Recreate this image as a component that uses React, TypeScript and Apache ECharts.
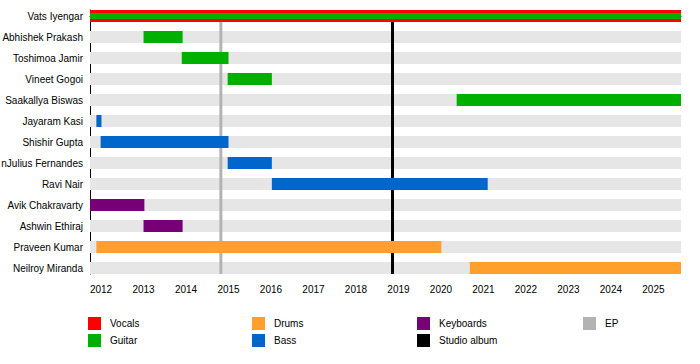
import React, { useEffect, useRef } from "react";
import * as echarts from "echarts";

const members = [
  "Vats Iyengar",
  "Abhishek Prakash",
  "Toshimoa Jamir",
  "Vineet Gogoi",
  "Saakallya Biswas",
  "Jayaram Kasi",
  "Shishir Gupta",
  "nJulius Fernandes",
  "Ravi Nair",
  "Avik Chakravarty",
  "Ashwin Ethiraj",
  "Praveen Kumar",
  "Neilroy Miranda",
];

const timelineStart = 2011.74;
const timelineEnd = 2025.65;
const yearTicks = [2012, 2013, 2014, 2015, 2016, 2017, 2018, 2019, 2020, 2021, 2022, 2023, 2024, 2025];

// [member, start, end]
const vocalsSpans: [string, number, number][] = [["Vats Iyengar", 2011.74, 2025.65]];
const guitarSpans: [string, number, number][] = [
  ["Abhishek Prakash", 2013.0, 2013.92],
  ["Toshimoa Jamir", 2013.9, 2015.0],
  ["Vineet Gogoi", 2014.98, 2016.02],
  ["Saakallya Biswas", 2020.37, 2025.65],
];
const secondaryGuitarSpans: [string, number, number][] = [["Vats Iyengar", 2011.74, 2025.65]];
const bassSpans: [string, number, number][] = [
  ["Jayaram Kasi", 2011.89, 2012.01],
  ["Shishir Gupta", 2011.99, 2015.0],
  ["nJulius Fernandes", 2014.98, 2016.02],
  ["Ravi Nair", 2016.02, 2021.1],
];
const keyboardsSpans: [string, number, number][] = [
  ["Avik Chakravarty", 2011.74, 2013.02],
  ["Ashwin Ethiraj", 2013.0, 2013.92],
];
const drumsSpans: [string, number, number][] = [
  ["Praveen Kumar", 2011.89, 2020.01],
  ["Neilroy Miranda", 2020.68, 2025.65],
];
const epReleases = [2014.82];
const studioAlbumReleases = [2018.86];

const COLORS: Record<string, string> = {
  Vocals: "#ff0000",
  Guitar: "#00b000",
  Drums: "#ff9f2c",
  Bass: "#0066cc",
  Keyboards: "#770077",
  "Studio album": "#000000",
  EP: "#b3b3b3",
};
const BG = "#e6e6e6";
const FONT = "'Liberation Sans', Arial, Helvetica, sans-serif";
const FS = 10;

const legendColumns = [
  ["Vocals", "Guitar"],
  ["Drums", "Bass"],
  ["Keyboards", "Studio album"],
  ["EP"],
];

const PAD = 6 / 21;

function toData(spans: [string, number, number][]) {
  return spans.map(([m, s, e]) => [members.indexOf(m), s, e]);
}

function spanSeries(name: string, spans: [string, number, number][], h: number) {
  return {
    type: "custom",
    name,
    clip: true,
    encode: { x: [1, 2], y: 0 },
    data: toData(spans),
    renderItem: (params: any, api: any) => {
      const row = api.value(0);
      const p0 = api.coord([api.value(1), row]);
      const p1 = api.coord([api.value(2), row]);
      return {
        type: "rect",
        shape: { x: p0[0], y: p0[1] - h / 2, width: p1[0] - p0[0], height: h },
        style: { fill: COLORS[name] },
      };
    },
  };
}

function releaseSeries(name: string, dates: number[]) {
  return {
    type: "custom",
    name,
    clip: true,
    encode: { x: 0 },
    data: dates.map((d) => [d]),
    renderItem: (params: any, api: any) => {
      const cs = params.coordSys;
      const p = api.coord([api.value(0), 0]);
      return {
        type: "rect",
        shape: { x: p[0] - 1.5, y: cs.y, width: 3, height: cs.height },
        style: { fill: COLORS[name] },
      };
    },
  };
}

export default function App() {
  const ref = useRef<HTMLDivElement>(null);
  useEffect(() => {
    if (!ref.current) return;
    const chart = echarts.init(ref.current, null, { renderer: "svg" });

    const legendGraphics: any[] = [];
    const colX = [88, 252, 417, 583];
    const rowY = [317, 334];
    legendColumns.forEach((col, ci) => {
      col.forEach((name, ri) => {
        legendGraphics.push({
          type: "rect",
          left: colX[ci],
          top: rowY[ri],
          shape: { width: 13, height: 13 },
          style: { fill: COLORS[name] },
        });
        legendGraphics.push({
          type: "text",
          left: colX[ci] + 22,
          top: rowY[ri] + 1.5,
          style: { text: name, fill: "#000", font: `${FS}px ${FONT}` },
        });
      });
    });

    chart.setOption({
      animation: false,
      textStyle: { fontFamily: FONT },
      grid: {
        left: 90,
        top: 10,
        width: 591,
        height: 264,
        containLabel: false,
        outerBoundsMode: "none",
      },
      xAxis: {
        type: "value",
        min: timelineStart,
        max: timelineEnd,
        axisLine: { show: true, lineStyle: { color: "#000", width: 1 } },
        axisTick: { show: true, customValues: yearTicks, length: 5, lineStyle: { color: "#000" } },
        axisLabel: {
          customValues: yearTicks,
          formatter: (v: number) => String(Math.round(v)),
          fontSize: FS,
          color: "#000",
          margin: 10,
          fontFamily: FONT,
        },
        splitLine: { show: false },
      },
      yAxis: {
        type: "value",
        inverse: true,
        min: -PAD,
        max: members.length - 1 + PAD,
        axisLine: { show: true, lineStyle: { color: "#000", width: 1 } },
        axisTick: { show: false },
        axisLabel: {
          customValues: members.map((_, i) => i),
          formatter: (v: number) => members[Math.round(v)] ?? "",
          fontSize: FS,
          color: "#000",
          margin: 7,
          fontFamily: FONT,
        },
        splitLine: { show: false },
      },
      graphic: legendGraphics,
      series: [
        {
          type: "custom",
          name: "background",
          clip: true,
          encode: { y: 0 },
          data: members.map((_, i) => [i]),
          renderItem: (params: any, api: any) => {
            const cs = params.coordSys;
            const p = api.coord([timelineStart, api.value(0)]);
            return {
              type: "rect",
              shape: { x: cs.x, y: p[1] - 6, width: cs.width, height: 12 },
              style: { fill: BG },
            };
          },
        },
        releaseSeries("EP", epReleases),
        releaseSeries("Studio album", studioAlbumReleases),
        spanSeries("Vocals", vocalsSpans, 12),
        spanSeries("Guitar", secondaryGuitarSpans, 6),
        spanSeries("Guitar", guitarSpans, 12),
        spanSeries("Bass", bassSpans, 12),
        spanSeries("Keyboards", keyboardsSpans, 12),
        spanSeries("Drums", drumsSpans, 12),
      ],
    });
    return () => chart.dispose();
  }, []);
  return (
    <div
      ref={ref}
      style={{ position: "fixed", left: 0, top: 0, width: 700, height: 364, background: "#fff" }}
    />
  );
}
